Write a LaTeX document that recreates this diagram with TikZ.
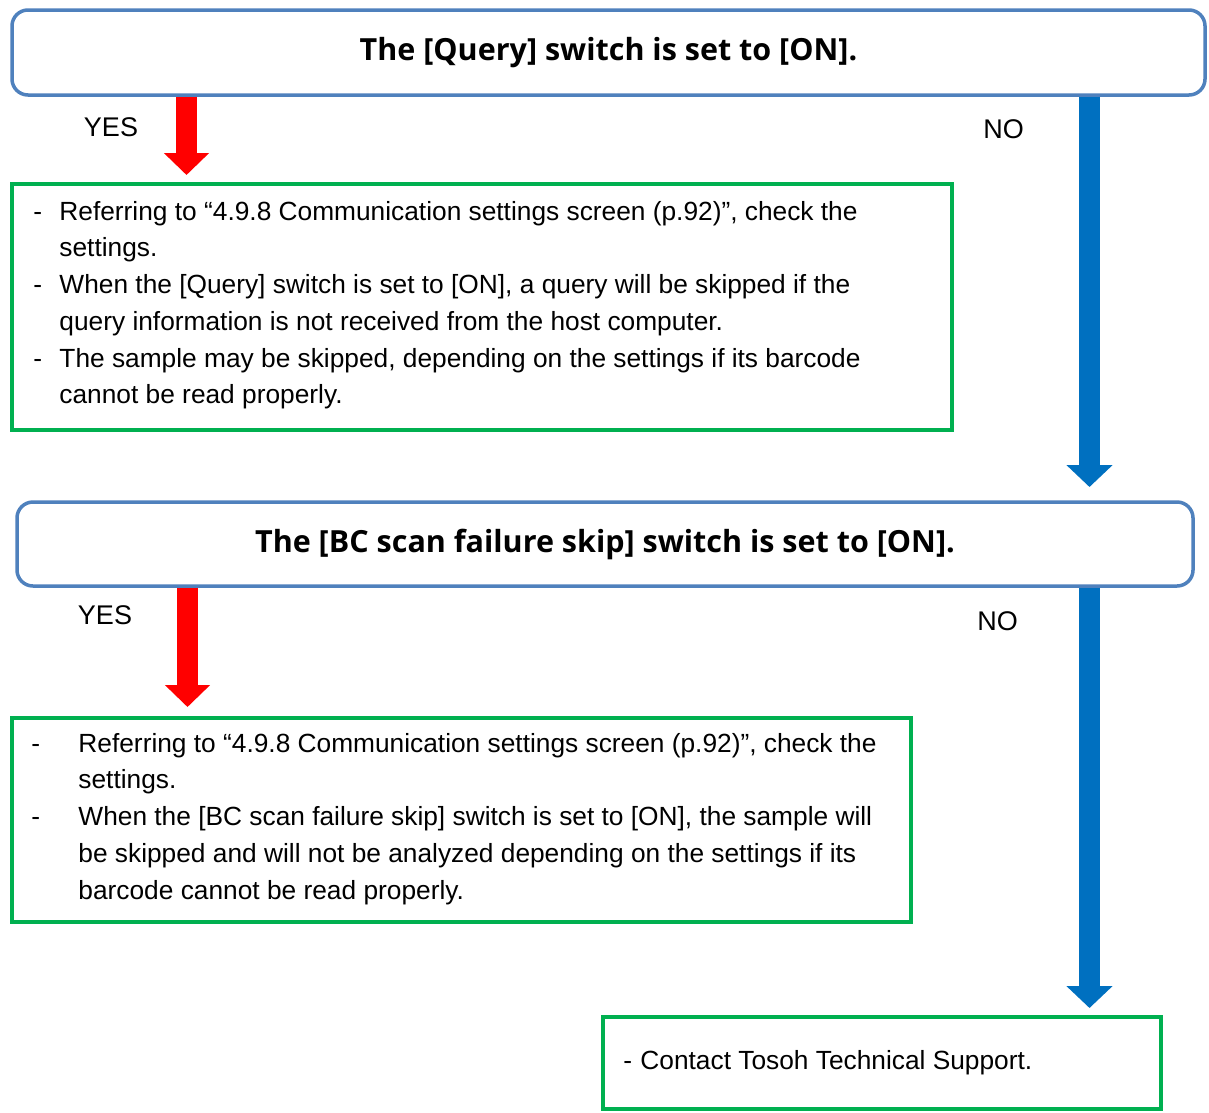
\documentclass[tikz,border=0pt]{standalone}
\usepackage{fontspec}
\setmainfont{Liberation Sans}
\newfontfamily\titlefont{Open Sans}
\usetikzlibrary{arrows.meta,calc}
\definecolor{qblue}{HTML}{4F81BD}
\definecolor{nblue}{HTML}{0070C0}
\definecolor{agreen}{HTML}{00B050}
\newcommand{\dashcol}[1]{\makebox[#1][l]{-}}
\begin{document}
\begin{tikzpicture}[x=1pt,y=-1pt,
  qbox/.style={draw=qblue, line width=3.5pt, rounded corners=16pt, fill=white, inner sep=0pt, align=center,
    font=\titlefont\bfseries\fontsize{30.5}{34}\selectfont},
  abox/.style={draw=agreen, line width=3.5pt, inner sep=0pt},
  btext/.style={anchor=base west, inner sep=0pt, font=\fontsize{26.3}{36.7}\selectfont},
  lbl/.style={inner sep=0pt, font=\fontsize{27}{30}\selectfont},
  yesarrow/.style={draw=red, line width=21pt, -{Triangle[width=44pt,length=22pt]}},
  noarrow/.style={draw=nblue, line width=21pt, -{Triangle[width=45pt,length=22pt]}}
]
\useasboundingbox[fill=white] (0,0) rectangle (1209,1112);

% arrow tips
\coordinate (tipY1) at (186.5,175);
\coordinate (tipN1) at (1089.5,487);
\coordinate (tipY2) at (187.5,707);
\coordinate (tipN2) at (1089.5,1008);

% question boxes
\node[qbox, minimum width=1193pt, minimum height=85pt] (q1) at (608.5,52.5) {\raisebox{-2.5pt}{The [Query] switch is set to [ON].}};
\node[qbox, minimum width=1176pt, minimum height=84pt] (q2) at (605,544) {\raisebox{-1.5pt}{The [BC scan failure skip] switch is set to [ON].}};

% answer boxes
\node[abox, minimum width=940pt, minimum height=246pt] (a1) at (482,307) {};
\node[abox, minimum width=899pt, minimum height=204pt] (a2) at (461.5,820) {};
\node[abox, minimum width=558pt, minimum height=92pt] (a3) at (882,1063) {};

% arrows
\draw[yesarrow] (q1.south -| tipY1) -- (tipY1);
\draw[noarrow] (q1.south -| tipN1) -- (tipN1);
\draw[yesarrow] (q2.south -| tipY2) -- (tipY2);
\draw[noarrow] (q2.south -| tipN2) -- (tipN2);

% labels
\node[lbl] (yes1) at (111,127) {YES};
\node[lbl] (no1) at (1003.5,129) {NO};
\node[lbl] (yes2) at (105,615) {YES};
\node[lbl] (no2) at (997.5,621) {NO};

% texts
\node[btext] (t1) at ($(a1.north west)+(23,38)$) {\begin{tabular}[t]{@{}l@{}l@{}}
\dashcol{26pt} & Referring to “4.9.8 Communication settings screen (p.92)”, check the\\
 & settings.\\
\dashcol{26pt} & When the [Query] switch is set to [ON], a query will be skipped if the\\
 & query information is not received from the host computer.\\
\dashcol{26pt} & The sample may be skipped, depending on the settings if its barcode\\
 & cannot be read properly.
\end{tabular}};
\node[btext] (t2) at ($(a2.north west)+(21,36)$) {\begin{tabular}[t]{@{}l@{}l@{}}
\dashcol{47pt} & Referring to “4.9.8 Communication settings screen (p.92)”, check the\\
 & settings.\\
\dashcol{47pt} & When the [BC scan failure skip] switch is set to [ON], the sample will\\
 & be skipped and will not be analyzed depending on the settings if its\\
 & barcode cannot be read properly.
\end{tabular}};
\node[btext] (t3) at ($(a3.north west)+(22,54)$) {\dashcol{17pt}Contact Tosoh Technical Support.};
\end{tikzpicture}
\end{document}
